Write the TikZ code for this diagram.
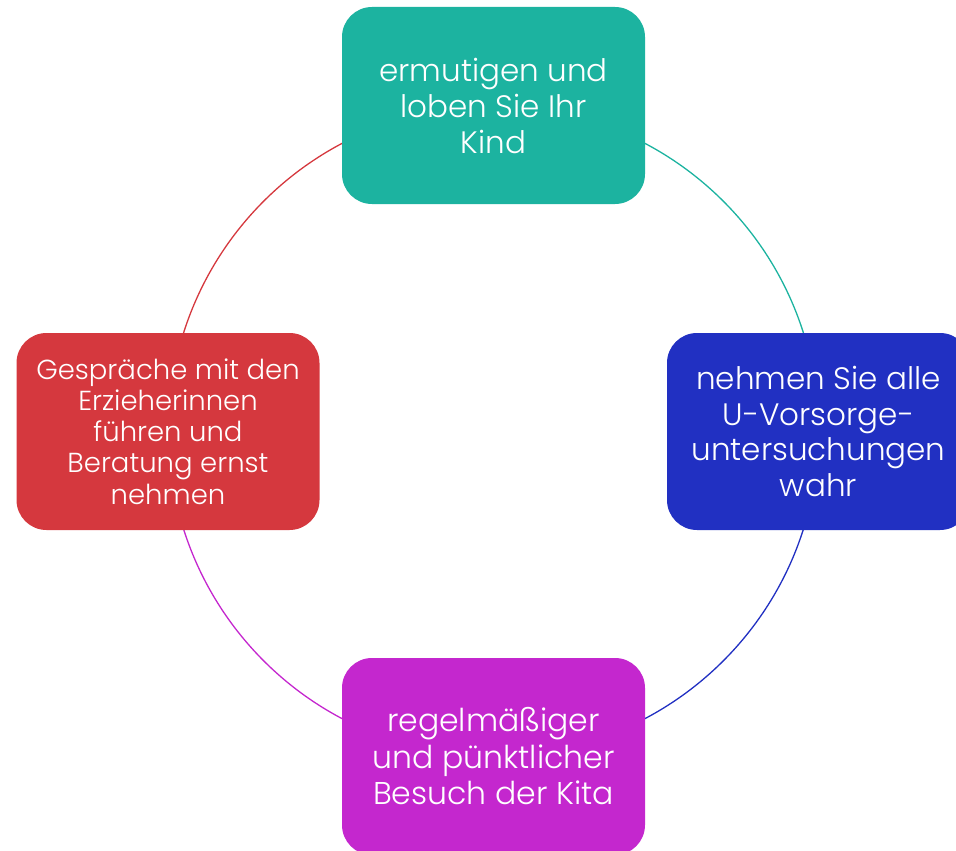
\documentclass[tikz,border=0pt]{standalone}
\usepackage{fontspec}
\setmainfont{Poppins Light}
\definecolor{cteal}{HTML}{1CB3A0}
\definecolor{cblue}{HTML}{2130C2}
\definecolor{cmag}{HTML}{C427CE}
\definecolor{cred}{HTML}{D5383E}
\tikzset{
  cbox/.style={rounded corners=30pt, minimum width=303pt, minimum height=197pt, inner sep=0pt, text=white, align=center},
  carc/.style={line width=1.3pt}
}
\begin{document}
\begin{tikzpicture}[x=1pt,y=-1pt]
\useasboundingbox (0,0) rectangle (956,851);
\clip (0,0) rectangle (956,851);
\coordinate (c) at (493.5,431);
\draw[carc,cteal] (c) ++(-90:325) arc[start angle=-90,end angle=0,radius=325];
\draw[carc,cblue] (c) ++(0:325) arc[start angle=0,end angle=90,radius=325];
\draw[carc,cmag] (c) ++(90:325) arc[start angle=90,end angle=180,radius=325];
\draw[carc,cred] (c) ++(180:325) arc[start angle=180,end angle=270,radius=325];
\node[cbox,fill=cteal,font=\fontsize{31}{36}\selectfont] (top) at (493.5,105.5) {ermutigen und\\loben Sie Ihr\\Kind};
\node[cbox,fill=cblue,font=\fontsize{31}{35.5}\selectfont] (right) at (818.5,431.5) {nehmen Sie alle\\U-Vorsorge-\\untersuchungen\\wahr};
\node[cbox,fill=cmag,font=\fontsize{31.5}{36.5}\selectfont] (bottom) at (493.5,756.5) {regelmäßiger\\und pünktlicher\\Besuch der Kita};
\node[cbox,fill=cred,font=\fontsize{27.5}{31.2}\selectfont] (left) at (168,431.5) {Gespräche mit den\\Erzieherinnen\\führen und\\Beratung ernst\\nehmen};
\end{tikzpicture}
\end{document}
